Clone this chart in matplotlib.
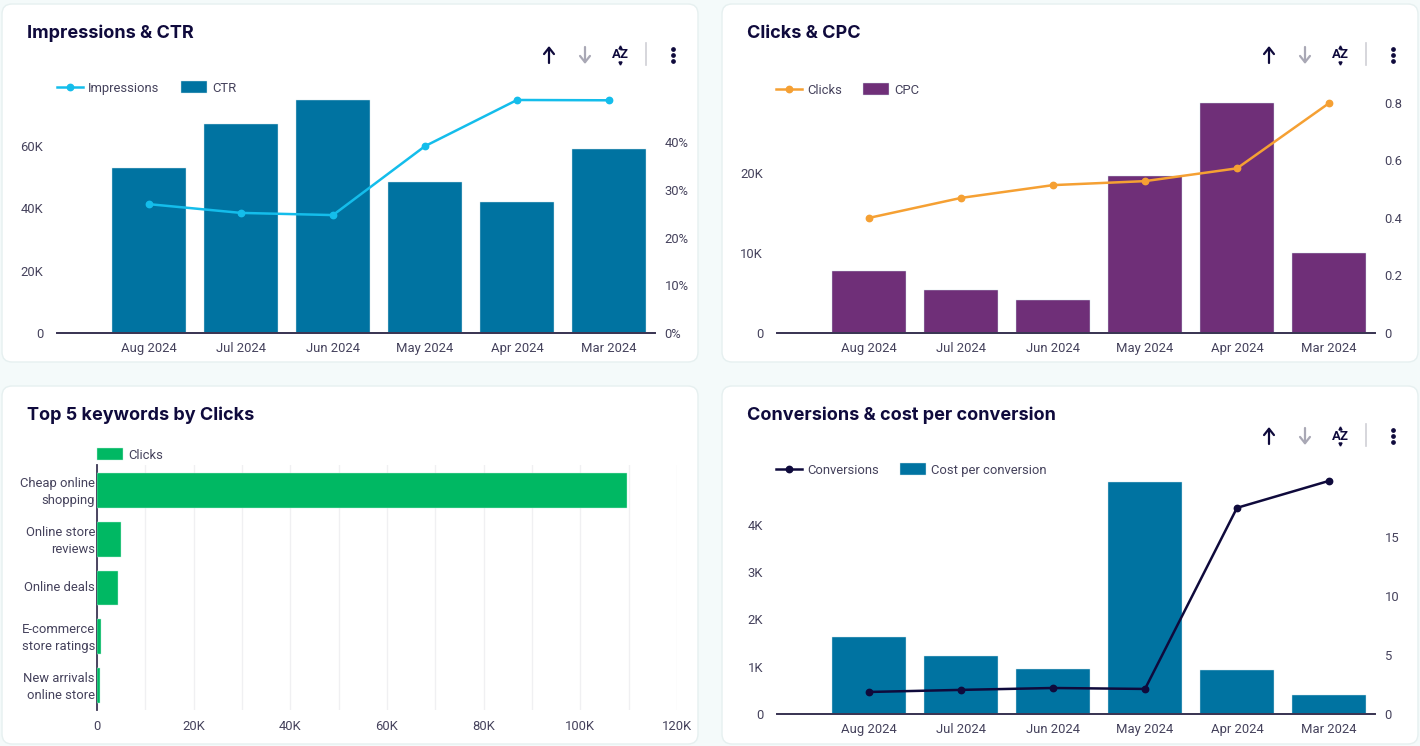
import matplotlib
matplotlib.use("Agg")
import matplotlib.pyplot as plt
from matplotlib.lines import Line2D
from matplotlib.patches import FancyBboxPatch, Patch
from matplotlib.transforms import ScaledTranslation

W, H = 1420, 746
months = ["Aug 2024", "Jul 2024", "Jun 2024", "May 2024", "Apr 2024", "Mar 2024"]

impressions = [41300, 38500, 37800, 59900, 74700, 74600]
ctr = [34.6, 43.8, 48.8, 31.6, 27.4, 38.5]

clicks = [14400, 16900, 18500, 19000, 20600, 28750]
cpc = [0.216, 0.15, 0.115, 0.546, 0.80, 0.278]

conversions = [466, 510, 550, 530, 4360, 4930]
cost_per_conv = [6.5, 4.9, 3.8, 19.66, 3.7, 1.6]

keywords = ["Cheap online\nshopping", "Online store\nreviews", "Online deals",
            "E-commerce\nstore ratings", "New arrivals\nonline store"]
keyword_clicks = [109600, 5000, 4300, 800, 600]

TXT = "#45425c"
DARK = "#0f0a3c"
AXIS = "#3b3654"
BLUE = "#0073a1"
FS = 9.4

plt.rcParams["font.family"] = ["Roboto", "DejaVu Sans"]
plt.rcParams["font.size"] = FS

fig = plt.figure(figsize=(W / 100, H / 100), dpi=100, facecolor="#f4fafa")

# page layer in pixel coordinates
bg = fig.add_axes([0, 0, 1, 1], zorder=-1)
bg.set_xlim(0, W)
bg.set_ylim(H, 0)
bg.axis("off")


def px_axes(left, top, right, bottom):
    a = fig.add_axes([left / W, 1 - bottom / H, (right - left) / W, (bottom - top) / H])
    a.patch.set_alpha(0)
    return a


def card(x0, y0, x1, y1, title):
    bg.add_patch(FancyBboxPatch((x0 + 10, y0 + 10), x1 - x0 - 20, y1 - y0 - 20,
                                boxstyle="round,pad=10,rounding_size=10",
                                fc="white", ec="#e6f0f0", lw=1))
    bg.text(x0 + 25, y0 + 29, title, family="Inter", fontsize=13, fontweight="bold",
            color=DARK, va="center")


def icons(x, y):
    # sort arrows, A-Z toggle, divider and the menu dots
    bg.annotate("", xy=(x, y - 9), xytext=(x, y + 8),
                arrowprops=dict(arrowstyle="->,head_width=0.38,head_length=0.48", color=DARK, lw=1.6,
                                shrinkA=0, shrinkB=0))
    bg.annotate("", xy=(x + 36, y + 9), xytext=(x + 36, y - 8),
                arrowprops=dict(arrowstyle="->,head_width=0.38,head_length=0.48", color="#a9a8b5", lw=1.6,
                                shrinkA=0, shrinkB=0))
    bg.text(x + 71, y, "AZ", fontsize=9.5, fontweight="bold", color=DARK, ha="center", va="center")
    bg.plot([x + 71], [y - 8], marker="^", ms=2.2, color=DARK)
    bg.plot([x + 71], [y + 8], marker="v", ms=2.2, color=DARK)
    bg.plot([x + 97, x + 97], [y - 12, y + 10], color="#cfcfd6", lw=1.2)
    bg.plot([x + 124] * 3, [y - 6, y, y + 6], ls="", marker="o", ms=2.4, color=DARK)


def style_base(a):
    for s in a.spines.values():
        s.set_visible(False)
    a.spines["bottom"].set_visible(True)
    a.spines["bottom"].set_color(AXIS)
    a.spines["bottom"].set_linewidth(1.3)
    a.tick_params(length=0, labelcolor=TXT, labelsize=FS)


def combo(box, bar_vals, bar_color, bar_lim, bar_ticks, bar_labels,
          line_vals, line_color, line_lim, line_ticks, line_labels,
          line_name, bar_name, legend_xy):
    ax = px_axes(*box)
    ax.bar(range(6), bar_vals, width=0.8, color=bar_color, edgecolor="#cfe3ea", linewidth=0.3)
    ax.set_xlim(-1, 5.5)
    ax.set_ylim(0, bar_lim)
    ax.set_xticks(range(6), months)
    ax.set_yticks(bar_ticks, bar_labels)
    style_base(ax)
    ax.tick_params(axis="x", pad=6.5)

    ax2 = ax.twinx()
    ax2.patch.set_alpha(0)
    ax2.plot(range(6), line_vals, color=line_color, lw=1.8, marker="o", ms=4.6)
    ax2.set_ylim(0, line_lim)
    ax2.set_yticks(line_ticks, line_labels)
    ax2.yaxis.tick_left()
    style_base(ax2)
    ax2.tick_params(axis="y", pad=10)
    # twinx moves the first axis ticks back to the left, so set this afterwards
    ax.yaxis.tick_right()
    ax.tick_params(axis="y", pad=7)

    handles = [Line2D([], [], color=line_color, lw=1.8, marker="o", ms=4.6),
               Patch(fc=bar_color, ec="#cfe3ea", lw=0.3)]
    fig.legend(handles, [line_name, bar_name], ncol=2, frameon=False, loc="center left",
               bbox_to_anchor=(legend_xy[0] / W, 1 - legend_xy[1] / H), borderpad=0, borderaxespad=0,
               handlelength=2.0, handleheight=1.05, handletextpad=0.4, columnspacing=1.6,
               fontsize=FS, labelcolor=TXT)


card(2, 4, 698, 362, "Impressions & CTR")
card(722, 4, 1418, 362, "Clicks & CPC")
card(2, 386, 698, 744, "Top 5 keywords by Clicks")
card(722, 386, 1418, 744, "Conversions & cost per conversion")

icons(549, 55)
icons(1269, 55)
icons(1269, 436)

combo((57, 90, 655, 333), ctr, BLUE, 50.9, [0, 10, 20, 30, 40], ["0%", "10%", "20%", "30%", "40%"],
      impressions, "#14bdeb", 77900, [0, 20000, 40000, 60000], ["0", "20K", "40K", "60K"],
      "Impressions", "CTR", (57, 88))

combo((777, 90, 1375, 333), cpc, "#6f2f78", 0.845, [0, 0.2, 0.4, 0.6, 0.8], ["0", "0.2", "0.4", "0.6", "0.8"],
      clicks, "#f5a033", 30400, [0, 10000, 20000], ["0", "10K", "20K"],
      "Clicks", "CPC", (776, 90))

combo((777, 470, 1375, 714), cost_per_conv, BLUE, 20.7, [0, 5, 10, 15], ["0", "5", "10", "15"],
      conversions, DARK, 5160, [0, 1000, 2000, 3000, 4000], ["0", "1K", "2K", "3K", "4K"],
      "Conversions", "Cost per conversion", (776, 470))

# keywords panel
ax3 = px_axes(97, 465, 677, 710)
ax3.barh(range(5), keyword_clicks, height=0.71, color="#00b863", edgecolor="#bfeeda", linewidth=0.3, zorder=3)
ax3.set_xlim(0, 120000)
ax3.set_ylim(4.5, -0.52)
ax3.set_yticks(range(5), keywords)
ax3.set_xticks(range(0, 120001, 20000), ["0", "20K", "40K", "60K", "80K", "100K", "120K"])
ax3.set_xticks(range(10000, 120000, 20000), minor=True)
ax3.grid(axis="x", which="both", color="#f0f0f2", lw=1)
ax3.set_axisbelow(True)
for s in ax3.spines.values():
    s.set_visible(False)
ax3.spines["left"].set_visible(True)
ax3.spines["left"].set_color(AXIS)
ax3.spines["left"].set_linewidth(1.3)
ax3.tick_params(which="both", length=0, labelcolor=TXT, labelsize=FS)
ax3.tick_params(axis="y", pad=1.5)
ax3.tick_params(axis="x", pad=7)
# nudge the wrapped labels up a little
nudge = ScaledTranslation(0, 2 / 100, fig.dpi_scale_trans)
for lab in ax3.get_yticklabels():
    lab.set_linespacing(1.4)
    lab.set_transform(lab.get_transform() + nudge)
fig.legend([Patch(fc="#00b863", ec="#bfeeda", lw=0.3)], ["Clicks"], frameon=False, loc="center left",
           bbox_to_anchor=(97 / W, 1 - 455 / H), borderpad=0, borderaxespad=0,
           handlelength=2.0, handleheight=1.05, handletextpad=0.4, fontsize=FS, labelcolor=TXT)

fig.savefig("out.png", dpi=100, facecolor=fig.get_facecolor())
